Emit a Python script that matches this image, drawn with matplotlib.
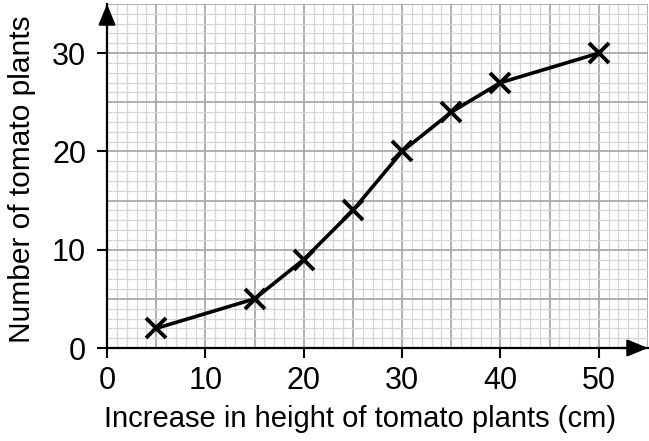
import matplotlib.pyplot as plt

plt.rcParams['font.family'] = ['Liberation Sans', 'DejaVu Sans']

# data
height_cm = [5, 15, 20, 25, 30, 35, 40, 50]
n_plants = [2, 5, 9, 14, 20, 24, 27, 30]
x_ticks = [0, 10, 20, 30, 40, 50]
y_ticks = [0, 10, 20, 30]

fig = plt.figure(figsize=(6.49, 4.41), dpi=100)
ax = fig.add_axes([107 / 649, 93 / 441, 541 / 649, 344 / 441])

ax.set_xlim(0, 55)
ax.set_ylim(0, 35)

# graph paper grid
for v in range(1, 56):
    ax.axvline(v, color='#a9a9a9' if v % 5 == 0 else '#d6d6d6',
               lw=1.3 if v % 5 == 0 else 0.9, zorder=0)
for v in range(1, 36):
    ax.axhline(v, color='#a9a9a9' if v % 5 == 0 else '#d6d6d6',
               lw=1.3 if v % 5 == 0 else 0.9, zorder=0)

ax.plot(height_cm, n_plants, color='black', lw=2.6, marker='x',
        markersize=15, mew=2.8, zorder=3)

for s in ['top', 'right']:
    ax.spines[s].set_visible(False)
for s in ['left', 'bottom']:
    ax.spines[s].set_linewidth(1.6)
    ax.spines[s].set_zorder(4)

# arrow heads on the axes
arrow = dict(arrowstyle='-|>,head_length=0.85,head_width=0.35', color='black',
             lw=1.6, mutation_scale=15, shrinkA=0, shrinkB=0)
ax.annotate('', xy=(1, 0), xytext=(0.95, 0), xycoords='axes fraction',
            arrowprops=arrow, annotation_clip=False)
ax.annotate('', xy=(0, 1), xytext=(0, 0.93), xycoords='axes fraction',
            arrowprops=arrow, annotation_clip=False)

ax.set_xticks(x_ticks)
ax.set_yticks(y_ticks)
ax.tick_params(axis='both', direction='out', length=7, width=1.5, labelsize=22)
ax.tick_params(axis='x', pad=6)
ax.tick_params(axis='y', pad=8)

ax.set_xlabel('Increase in height of tomato plants (cm)', fontsize=21)
ax.set_ylabel('Number of tomato plants', fontsize=21.5)
ax.xaxis.set_label_coords(0.468, -0.166)
ax.yaxis.set_label_coords(-0.131, 0.49)

fig.savefig('out.png', dpi=100)
